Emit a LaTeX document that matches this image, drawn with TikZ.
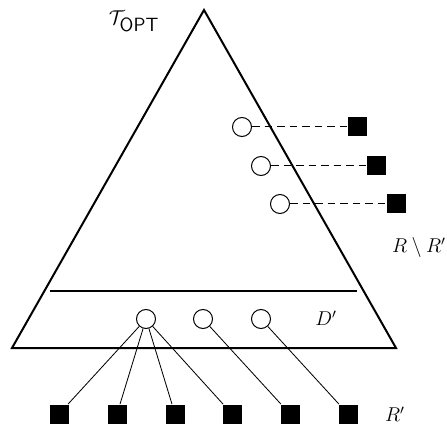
\documentclass[tikz,border=0pt]{standalone}
\begin{document}
\begin{tikzpicture}[x=0.6pt,y=-0.6pt,
  thick line/.style={line width=1.2pt},
  vtx/.style={circle,draw,line width=0.6pt,minimum size=11.4pt,inner sep=0pt},
  req/.style={rectangle,fill=black,minimum size=11.4pt,inner sep=0pt},
  link/.style={line width=0.5pt},
  dlink/.style={line width=0.6pt,dash pattern=on 4.5pt off 3pt},
  lbl/.style={inner sep=0pt,font=\fontsize{11.5}{14}\selectfont}]
\useasboundingbox (0,0) rectangle (447,424);
% triangle
\coordinate (apex) at (204,10);
\coordinate (bl) at (12,348);
\coordinate (br) at (396,348);
\draw[thick line,line join=miter] (apex) -- (bl) -- (br) -- cycle;
\coordinate (hl) at (50,291);
\coordinate (hr) at (357,291);
\draw[thick line] (hl) -- (hr);
% upper circles and squares
\node[vtx] (u1) at (242,127) {};
\node[vtx] (u2) at (261,166) {};
\node[vtx] (u3) at (280,204) {};
\node[req] (s1) at (357,127) {};
\node[req] (s2) at (376,166) {};
\node[req] (s3) at (396,204) {};
\draw[dlink] (u1) -- (s1);
\draw[dlink] (u2) -- (s2);
\draw[dlink] (u3) -- (s3);
% lower circles
\node[vtx] (d1) at (146,319) {};
\node[vtx] (d2) at (203,319) {};
\node[vtx] (d3) at (261,319) {};
% bottom squares
\node[req] (b1) at (59,414) {};
\node[req] (b2) at (117,414) {};
\node[req] (b3) at (175,414) {};
\node[req] (b4) at (232,414) {};
\node[req] (b5) at (290,414) {};
\node[req] (b6) at (348,414) {};
\draw[link] (d1) -- (b1);
\draw[link] (d1) -- (b2);
\draw[link] (d1) -- (b3);
\draw[link] (d1) -- (b4);
\draw[link] (d2) -- (b5);
\draw[link] (d3) -- (b6);
% labels
\node[lbl] (topt) at (134,21) {$\mathcal{T}_{\textsf{OPT}}$};
\node[lbl] (rr) at (419,248) {$R\setminus R'$};
\node[lbl] (dp) at (326,318) {$D'$};
\node[lbl] (rp) at (395,414) {$R'$};
\end{tikzpicture}
\end{document}
